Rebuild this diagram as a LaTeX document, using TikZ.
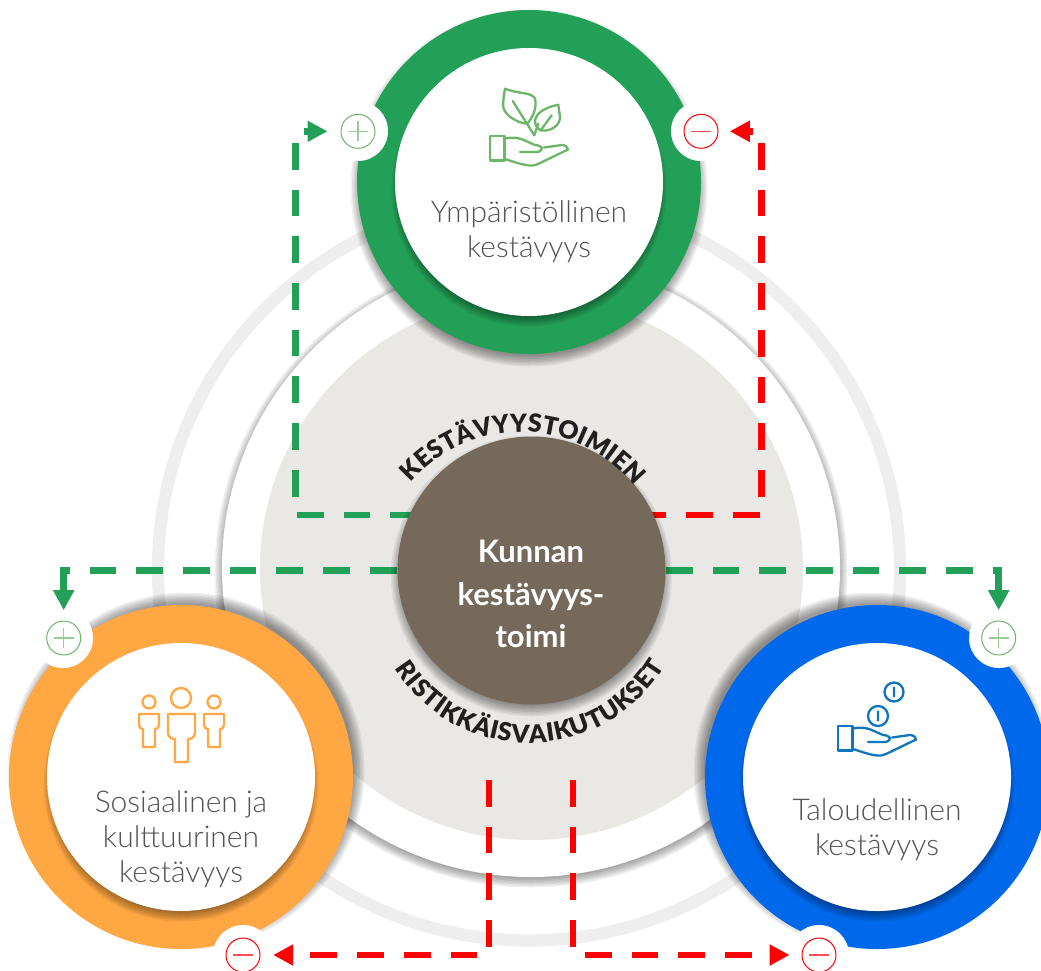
\documentclass[tikz,border=0pt]{standalone}
\usepackage{fontspec}
\setmainfont{Lato}
\newfontfamily\lightfont{Lato Light}
\newfontfamily\blackfont{Lato Black}
\usetikzlibrary{arrows.meta,decorations.text}
\definecolor{envgreen}{HTML}{23A057}
\definecolor{icongreen}{HTML}{6CB668}
\definecolor{socorange}{HTML}{FFA743}
\definecolor{ecoblue}{HTML}{0068EA}
\definecolor{iconblue}{HTML}{0F75BC}
\definecolor{hubbrown}{HTML}{75695B}
\definecolor{discgrey}{HTML}{E9E8E4}
\definecolor{ringgrey}{HTML}{EEEEEE}
\definecolor{labelgrey}{HTML}{525252}
\definecolor{curvedark}{HTML}{231F20}
\newcommand*\curvefont{\blackfont\fontsize{25}{25}\selectfont}
% soft shadow under a disc: x, y, radius
\newcommand*\softshadow[3]{%
    \foreach \grow in {-4,-2.5,...,6.5}
        \fill[black,opacity=0.06] (#1,#2) circle[radius=#3pt+\grow pt];
}
\tikzset{
    disc/.style={circle,inner sep=0pt,minimum size=#1*2pt},
    label/.style={font=\lightfont\fontsize{30}{35}\selectfont,text=labelgrey,align=center},
    badge/.style={disc=30,fill=white},
    sign/.style={disc=17,draw=#1,fill=white,line width=1pt},
    dashline/.style={line width=6.6pt,dash pattern=on 26.7pt off 20pt,-{Triangle[length=20pt,width=20pt]}},
    curved/.style={decorate,decoration={text along path,text align={fit to path},text color=curvedark,text={|\curvefont|#1}}},
    icon/.style={line width=2.3pt,line join=round,line cap=round,draw=#1},
    hand/.pic={
        \draw (0,0) rectangle (14.5,24.5);
        \draw (14.5,2.5) .. controls (22,1) and (30,1.5) .. (36,5) -- (45,9) .. controls (52,9.5) and (55,13) .. (48,16) -- (30,16);
        \draw (54,11.5) -- (72,9) .. controls (76,9) and (78,12) .. (78,13.5) -- (48,28) .. controls (42,31) and (36,30) .. (15,23);
    },
}

\begin{document}
\begin{tikzpicture}[x=1pt,y=-1pt]
    \useasboundingbox (0,0) rectangle (1041,970);

    % Rings behind everything.
    \draw[ringgrey,line width=12.3pt] (529,569.5) circle[radius=371pt];
    \softshadow{531}{571}{310}
    \node[disc=309,fill=white] (whitedisc) at (531,568) {};
    \node[disc=271.5,fill=discgrey] (greydisc) at (531.5,568.5) {};

    % Outer circles.
    \softshadow{529}{188}{172}
    \node[disc=172,fill=envgreen] (envring) at (529,182) {};
    \softshadow{529}{189}{131}
    \node[disc=134,fill=white] (envdisc) at (529,182) {};
    \softshadow{186}{771}{172}
    \node[disc=172,fill=socorange] (socring) at (181,777) {};
    \softshadow{181}{784}{131}
    \node[disc=134,fill=white] (socdisc) at (181,777) {};
    \softshadow{872}{771}{172}
    \node[disc=172,fill=ecoblue] (ecoring) at (877,777) {};
    \softshadow{877}{784}{131}
    \node[disc=134,fill=white] (ecodisc) at (877,777) {};

    % Badges and their signs.
    \foreach \name/\x/\y in {envplus/358/131,envminus/701/131,socplus/63/638,socminus/243/955,ecoplus/999/638,ecominus/819/955}
        \node[badge] (\name back) at (\x,\y) {};
    \foreach \name/\x/\y in {envplus/358/131.3,socplus/63.7/638,ecoplus/998.7/638} {
        \node[sign=icongreen] (\name) at (\x,\y) {};
        \draw[icongreen!70,line width=1.5pt] (\name.center) +(-10,0) -- +(10,0) (\name.center) +(0,-10) -- +(0,10);
    }
    \foreach \name/\x/\y in {envminus/701/131.3,socminus/243/955,ecominus/819/955} {
        \node[sign=red] (\name) at (\x,\y) {};
        \draw[red!70,line width=1.2pt] (\name.center) +(-10,0) -- +(10,0);
    }

    % Connectors. They start under the hub, which is drawn afterwards.
    \coordinate (hubcentre) at (531.5,570.5);
    \coordinate (envleft) at (295.5,515);
    \coordinate (envright) at (761.3,515);
    \coordinate (socleft) at (63.7,570.7);
    \coordinate (ecoright) at (998.7,570.7);
    \coordinate (redleft) at (489,780);
    \coordinate (redright) at (573,780);
    \draw[envgreen,dashline,dash phase=25.7pt,shorten >=13pt] (hubcentre |- envleft) -- (envleft) -- (envleft |- envplus) -- (envplus);
    \draw[red,dashline,dash phase=32pt,shorten >=11.3pt] (hubcentre |- envright) -- (envright) -- (envright |- envminus) -- (envminus);
    \draw[envgreen,dashline,dash phase=5.1pt,shorten >=10.3pt] (hubcentre |- socleft) -- (socleft) -- (socplus);
    \draw[envgreen,dashline,dash phase=5.8pt,shorten >=10.3pt] (hubcentre |- ecoright) -- (ecoright) -- (ecoplus);
    \draw[red,dashline,shorten >=12.7pt] (redleft) -- (redleft |- socminus) -- (socminus);
    \draw[red,dashline,shorten >=12pt] (redright) -- (redright |- ecominus) -- (ecominus);

    % Hub with the curved words.
    \softshadow{531.5}{576}{134}
    \node[disc=134,fill=hubbrown] (hub) at (hubcentre) {};
    \node[text=white,align=center,font=\bfseries\fontsize{31}{42.5}\selectfont] (hublabel) at (531,594) {Kunnan\\kestävyys-\\toimi};
    \path[curved=KESTÄVYYSTOIMIEN] (521,578) ++(139:146pt) arc[start angle=139,end angle=39,radius=146pt];
    \path[curved=RISTIKKÄISVAIKUTUKSET] (529,585) ++(212:158pt) arc[start angle=212,end angle=329,radius=158pt];

    % Labels.
    \node[label] (envlabel) at (529,232) {Ympäristöllinen\\kestävyys};
    \node[label] (soclabel) at (181,839) {Sosiaalinen ja\\kulttuurinen\\kestävyys};
    \node[label] (ecolabel) at (877,830) {Taloudellinen\\kestävyys};

    % Plant icon.
    \begin{scope}[shift={(490,136)},icon=icongreen]
        \pic {hand};
        \draw (15,-47.3) .. controls (28,-42) and (42,-44) .. (45,-37.3) .. controls (47,-30) and (44,-20) .. (37.3,-12.3) .. controls (26,-13) and (14,-22) .. (13.3,-29) .. controls (13,-36) and (14,-42) .. (15,-47.3) -- cycle;
        \draw (22.7,-35) -- (44.3,-0.7) -- (48.3,-12.3);
        \draw (68.3,-31.3) .. controls (58,-29) and (47,-25) .. (45,-15.7) .. controls (45,-11) and (47,-8) .. (50.7,-5.7) .. controls (60,-4) and (70,-10) .. (70,-19) -- cycle;
        \draw (50.7,-5.7) -- (61.7,-20.7);
    \end{scope}

    % Coin icon.
    \begin{scope}[shift={(838,726)},icon=iconblue]
        \pic {hand};
        \draw (56,-34) circle[radius=9.5pt] (56,-38.5) -- (56,-29.5);
        \draw (40,-10) circle[radius=10pt] (40,-14.5) -- (40,-5.5);
    \end{scope}

    % People icon.
    \begin{scope}[icon=socorange]
        \draw (181,698) circle[radius=10pt];
        \draw (168,714) -- (195,714) -- (195,732) .. controls (195,737) and (192,739) .. (188,739) -- (188,762) -- (175,762) -- (175,739) .. controls (171,739) and (168,737) .. (168,732) -- cycle;
        \draw (149,702) circle[radius=6.5pt] (214,702) circle[radius=6.5pt];
        \draw (139,714) -- (159,714) -- (159,725) .. controls (159,728) and (157,729) .. (155,729) -- (155,747) -- (143,747) -- (143,729) .. controls (141,729) and (139,728) .. (139,725) -- cycle;
        \draw (204,714) -- (224,714) -- (224,725) .. controls (224,728) and (222,729) .. (220,729) -- (220,747) -- (208,747) -- (208,729) .. controls (206,729) and (204,728) .. (204,725) -- cycle;
    \end{scope}
\end{tikzpicture}
\end{document}
